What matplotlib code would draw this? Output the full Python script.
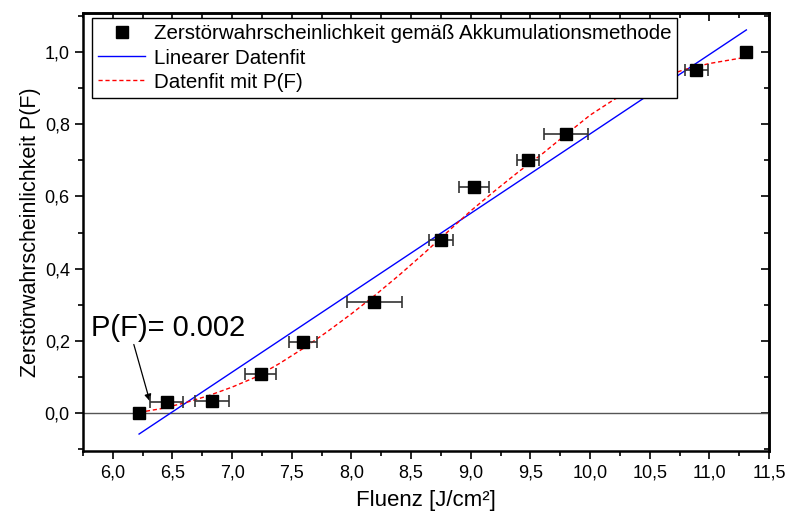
import numpy as np
import matplotlib.pyplot as plt
from matplotlib.ticker import MultipleLocator, FuncFormatter
from matplotlib.lines import Line2D

plt.rcParams['font.family'] = ['Liberation Sans', 'DejaVu Sans']

# Messpunkte (Akkumulationsmethode)
fluenz = [6.22, 6.45, 6.83, 7.24, 7.595, 8.19, 8.75, 9.03, 9.48, 9.80, 10.89, 11.31]
p_f = [0.0, 0.030, 0.034, 0.108, 0.197, 0.309, 0.479, 0.626, 0.700, 0.774, 0.950, 1.0]
fluenz_err = [0.0, 0.14, 0.145, 0.13, 0.12, 0.23, 0.10, 0.125, 0.09, 0.185, 0.095, 0.0]

lin_x = [6.22, 11.31]
lin_y = [-0.058, 1.061]

fit_x = [6.22, 6.4, 6.6, 6.8, 7.0, 7.2, 7.4, 7.6, 7.8, 8.0, 8.2, 8.4, 8.6,
         8.8, 9.0, 9.2, 9.4, 9.6, 9.8, 10.0, 10.2, 10.4, 10.6, 10.8, 11.0,
         11.3]
fit_y = [0.002, 0.012, 0.028, 0.048, 0.072, 0.100, 0.138, 0.180, 0.226, 0.275,
         0.327, 0.382, 0.440, 0.500, 0.560, 0.615, 0.668, 0.718, 0.772, 0.825,
         0.868, 0.903, 0.930, 0.952, 0.968, 0.985]

komma = FuncFormatter(lambda v, pos: ('%.1f' % v).replace('.', ','))

fig = plt.figure(figsize=(7.92, 5.18), dpi=100)
ax = fig.add_axes([0.1048, 0.1293, 0.8662, 0.8457])

ax.axhline(0, color='#555555', lw=1.0, zorder=1)
ax.plot(lin_x, lin_y, color='blue', lw=1.0, zorder=2)
ax.plot(fit_x, fit_y, color='red', lw=1.0, ls=(0, (3, 2)), zorder=3)
ax.errorbar(fluenz, p_f, xerr=fluenz_err, fmt='s', color='black', ms=8,
            ecolor='#333333', elinewidth=1.2, capsize=4, capthick=1.2, zorder=4)

ax.text(5.82, 0.235, 'P(F)= 0.002', fontsize=21, va='center', ha='left')
ax.annotate('', xy=(6.31, 0.033), xytext=(6.176, 0.19),
            arrowprops=dict(arrowstyle='-|>', color='black', lw=0.9,
                            mutation_scale=10, shrinkA=0, shrinkB=0))

ax.set_xlim(5.75, 11.5)
ax.set_ylim(-0.105, 1.108)
ax.xaxis.set_major_locator(MultipleLocator(0.5))
ax.xaxis.set_minor_locator(MultipleLocator(0.25))
ax.yaxis.set_major_locator(MultipleLocator(0.2))
ax.yaxis.set_minor_locator(MultipleLocator(0.1))
ax.xaxis.set_major_formatter(komma)
ax.yaxis.set_major_formatter(komma)
ax.tick_params(which='both', direction='out', top=False, right=False, labelsize=13, width=1.2)
ax.tick_params(which='major', length=6)
ax.tick_params(which='minor', length=3.5)

# innere Ticks oben und rechts
sec_x = ax.secondary_xaxis('top')
sec_x.xaxis.set_major_locator(MultipleLocator(0.5))
sec_x.xaxis.set_minor_locator(MultipleLocator(0.25))
sec_x.tick_params(which='both', direction='in', labeltop=False, width=1.2)
sec_x.tick_params(which='major', length=6)
sec_x.tick_params(which='minor', length=3.5)
sec_y = ax.secondary_yaxis('right')
sec_y.yaxis.set_major_locator(MultipleLocator(0.2))
sec_y.yaxis.set_minor_locator(MultipleLocator(0.1))
sec_y.tick_params(which='both', direction='in', labelright=False, width=1.2)
sec_y.tick_params(which='major', length=6)
sec_y.tick_params(which='minor', length=3.5)
for s in ax.spines.values():
    s.set_linewidth(1.8)
sec_x.spines['top'].set_linewidth(1.8)
sec_y.spines['right'].set_linewidth(1.8)

ax.set_xlabel('Fluenz [J/cm²]', fontsize=16, labelpad=6)
ax.set_ylabel('Zerstörwahrscheinlichkeit P(F)', fontsize=15.5, labelpad=3)

handles = [
    Line2D([], [], ls='none', marker='s', color='black', ms=8),
    Line2D([], [], color='blue', lw=1.0),
    Line2D([], [], color='red', lw=1.0, ls=(0, (3, 2))),
]
labels = ['Zerstörwahrscheinlichkeit gemäß Akkumulationsmethode',
          'Linearer Datenfit', 'Datenfit mit P(F)']
leg = ax.legend(handles, labels, loc='upper left', bbox_to_anchor=(0.013, 0.988),
                borderaxespad=0, fontsize=14.8, frameon=True, fancybox=False,
                framealpha=1.0, handlelength=2.3, handletextpad=0.4,
                labelspacing=0.25, borderpad=0.3)
leg.get_frame().set_edgecolor('black')
leg.get_frame().set_linewidth(1.0)
leg.set_zorder(5)

fig.savefig('out.png', dpi=100)
